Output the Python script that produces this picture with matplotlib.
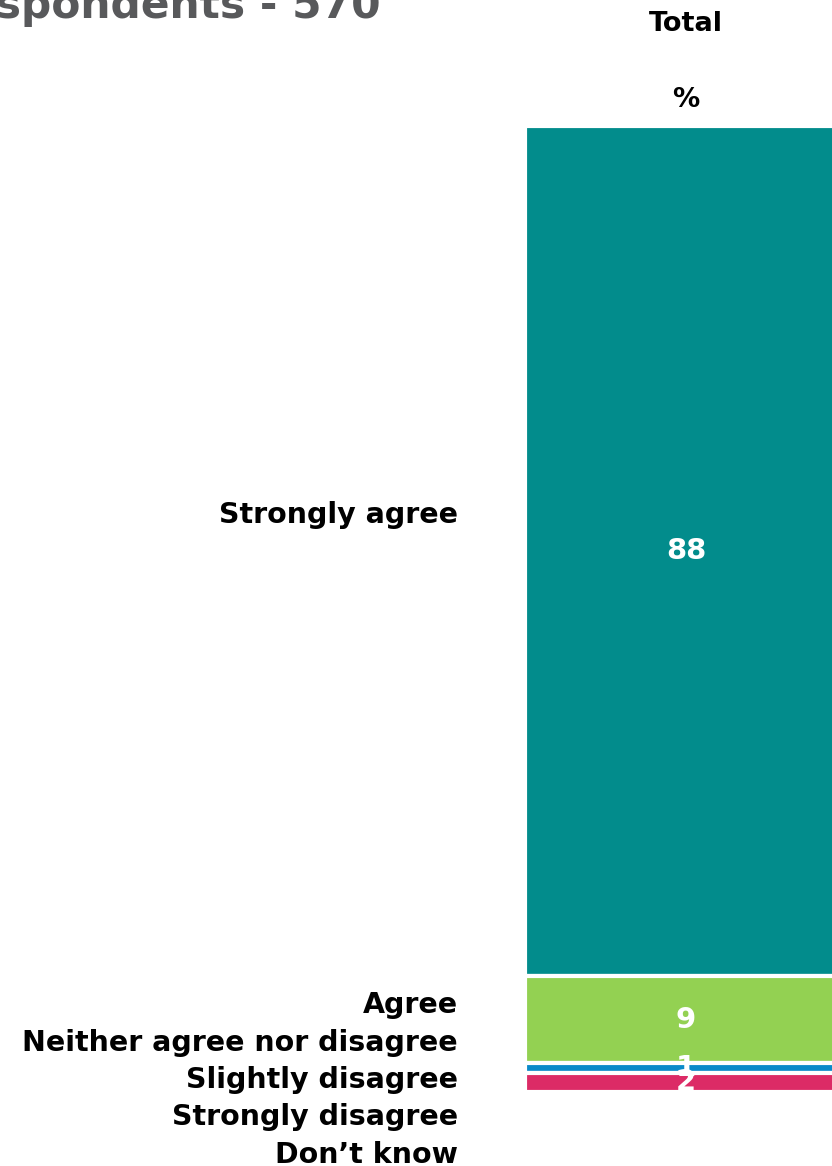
import matplotlib
matplotlib.use("Agg")
import matplotlib.pyplot as plt

# Werte (Prozent, Gesamt)
categories = ['Strongly agree', 'Agree', 'Neither agree nor disagree',
              'Slightly disagree', 'Strongly disagree', 'Don\u2019t know']
values = [88, 9, 1, 2, 0, 0]
colors = ['#028c8c', '#93d152', '#0a8ac9', '#dc2b66', '#8b1a3a', '#a6a6a6']
column_label = 'Total'
title_text = 'Base: All respondents - 570'

W, H = 832, 1166
fig = plt.figure(figsize=(W / 100, H / 100), dpi=100)
plt.rcParams['font.family'] = ['DejaVu Sans']

# Achse für die gestapelte Säule (rechts etwas über den Rand hinaus)
ax = fig.add_axes([525 / W, 1 - 1092 / H, 322 / W, 966 / H])
bottom = 0
for cat, val, col in zip(categories, values, colors):
    if val <= 0:
        continue
    ax.bar(0.5, val, width=1, bottom=bottom, color=col,
           edgecolor='white', linewidth=3)
    ax.text(0.5, bottom + val / 2, str(val), ha='center', va='center',
            color='white', fontsize=21, fontweight='bold', clip_on=True)
    bottom += val

ax.set_xlim(0, 1)
ax.set_ylim(100, 0)
ax.axis('off')

# Kopf der Spalte
fig.text(686 / W, 1 - 24 / H, column_label, ha='center', va='center',
         fontsize=19.5, fontweight='bold')
fig.text(686 / W, 1 - 100 / H, '%', ha='center', va='center',
         fontsize=19.5, fontweight='bold')

# Titel (oben abgeschnitten)
fig.text(381 / W, 1 - 18 / H, title_text, ha='right', va='baseline',
         fontsize=30.5, fontweight='bold', color='#58595b')

# Kategorien links
label_y = [515, 1005, 1043, 1080, 1117, 1155]
for cat, y in zip(categories, label_y):
    fig.text(458 / W, 1 - y / H, cat, ha='right', va='center',
             fontsize=20.5, fontweight='bold')

fig.savefig('out.png', dpi=100)
